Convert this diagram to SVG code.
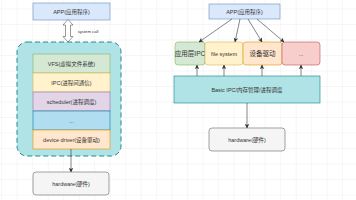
<svg xmlns="http://www.w3.org/2000/svg" width="356" height="200" viewBox="0 0 356 200">
<style>
text{font-family:"Liberation Sans","Noto Sans CJK SC",sans-serif;font-size:5.5px;fill:#333;text-anchor:middle;dominant-baseline:central}
.big{font-size:6.5px}
.ln{stroke:#333;stroke-width:0.6;fill:none}
</style>
<defs>
<pattern id="grid" x="1.2" y="8.5" width="15.5" height="15.5" patternUnits="userSpaceOnUse">
<path d="M0 0H15.5M0 0V15.5" stroke="#e9e9e9" stroke-width="0.8" fill="none"/>
</pattern>
<marker id="ah" viewBox="0 0 6 6" refX="5.5" refY="3" markerWidth="4.5" markerHeight="4.5" orient="auto" markerUnits="userSpaceOnUse">
<path d="M0 0L6 3L0 6L1.5 3Z" fill="#333"/>
</marker>
</defs>
<rect width="356" height="200" fill="#fff"/>
<rect width="356" height="200" fill="url(#grid)"/>

<g id="left-app"><rect x="33" y="3" width="77" height="17" fill="#dae8fc" stroke="#6c8ebf" stroke-width="0.6"/><text x="71.5" y="11.5">APP(应用程序)</text></g>
<g id="syscall"><path d="M68 19.5L73 25H70.5V36.5H73L68 42L63 36.5H65.5V25H63Z" fill="#fff" stroke="#555" stroke-width="0.6"/><text x="88" y="31" style="font-size:4.2px">system call</text></g>
<g id="kernel"><rect x="17" y="42" width="104" height="114" rx="10" fill="#b0e3e6" stroke="#0e8088" stroke-width="0.9" stroke-dasharray="5 3"/></g>
<g id="vfs"><rect x="33" y="54" width="77" height="19" fill="#d5e8d4" stroke="#82b366" stroke-width="0.6"/><text x="71.5" y="63.5">VFS(虚拟文件系统)</text></g>
<g id="ipc"><rect x="33" y="73" width="77" height="19" fill="#fff2cc" stroke="#d6b656" stroke-width="0.6"/><text x="71.5" y="82.5">IPC(进程间通信)</text></g>
<g id="scheduler"><rect x="33" y="92" width="77" height="19" fill="#e1d5e7" stroke="#9673a6" stroke-width="0.6"/><text x="71.5" y="101.5">scheduler(进程调度)</text></g>
<g id="more-left"><rect x="33" y="111" width="77" height="19" fill="#b1ddf0" stroke="#10739e" stroke-width="0.6"/><text x="71.5" y="120.5">...</text></g>
<g id="driver"><rect x="33" y="130" width="77" height="19" fill="#ffe6cc" stroke="#d79b00" stroke-width="0.6"/><text x="71.5" y="139.5">device driver(设备驱动)</text></g>
<g id="left-hw"><rect x="33" y="172" width="76" height="23" rx="3" fill="#f5f5f5" stroke="#666" stroke-width="0.6"/><text x="71" y="183.5">hardware(硬件)</text></g>

<g id="right-app"><rect x="209" y="4" width="71" height="15" fill="#dae8fc" stroke="#6c8ebf" stroke-width="0.6"/><text x="244.5" y="11.5">APP(应用程序)</text></g>
<g id="app-ipc"><rect x="175" y="42" width="30" height="23" rx="3" fill="#d5e8d4" stroke="#82b366" stroke-width="0.6"/><text x="190" y="53.5" class="big">应用层IPC</text></g>
<g id="fs"><rect x="205" y="42" width="38" height="23" rx="3" fill="#fff2cc" stroke="#d6b656" stroke-width="0.6"/><text x="224" y="53.5">file system</text></g>
<g id="dev"><rect x="243" y="42" width="39" height="23" rx="3" fill="#ffe6cc" stroke="#d79b00" stroke-width="0.6"/><text x="262.5" y="53.5" class="big">设备驱动</text></g>
<g id="more-right"><rect x="282" y="42" width="38" height="23" rx="3" fill="#f8cecc" stroke="#b85450" stroke-width="0.6"/><text x="301" y="53.5">...</text></g>
<g id="basic"><rect x="174" y="76" width="146" height="27" fill="#b0e3e6" stroke="#0e8088" stroke-width="0.6"/><text x="247" y="89.5">Basic IPC/内存管理/进程调度</text></g>
<g id="right-hw"><rect x="209" y="128" width="76" height="23" rx="3" fill="#f5f5f5" stroke="#666" stroke-width="0.6"/><text x="247" y="139.5">hardware(硬件)</text></g>

<g id="connectors">
<path class="ln" d="M71 149V172" marker-end="url(#ah)"/>
<path class="ln" d="M232 19L199 42" marker-end="url(#ah)"/>
<path class="ln" d="M240 19L235 42" marker-end="url(#ah)"/>
<path class="ln" d="M248 19L262 42" marker-end="url(#ah)"/>
<path class="ln" d="M257 19L284 42" marker-end="url(#ah)"/>
<path class="ln" d="M197 76V65" marker-end="url(#ah)"/>
<path class="ln" d="M224 76V65" marker-end="url(#ah)"/>
<path class="ln" d="M262 76V65" marker-end="url(#ah)"/>
<path class="ln" d="M301 76V65" marker-end="url(#ah)"/>
<path class="ln" d="M247 103V128" marker-end="url(#ah)"/>
</g>
</svg>
